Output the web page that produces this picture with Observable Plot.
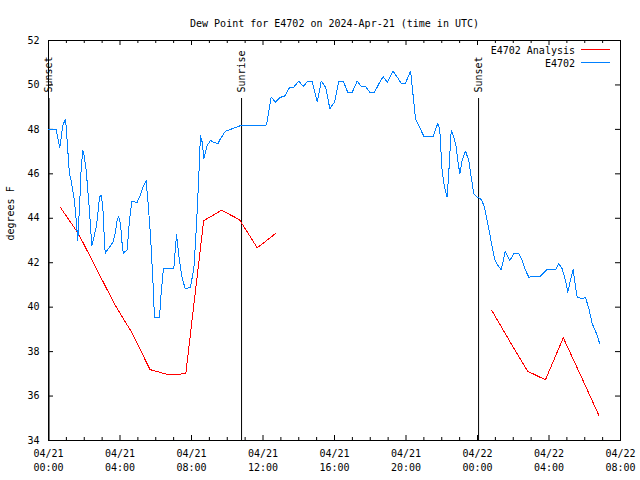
<!DOCTYPE html>
<html><head><meta charset="utf-8">
<script src="https://cdn.jsdelivr.net/npm/d3@7"></script>
<script src="https://cdn.jsdelivr.net/npm/@observablehq/plot@0.6"></script>
<style>body{margin:0;background:#fff} svg{display:block}</style>
</head><body><div id="chart"></div>
<script>
const FONT = "DejaVu Sans Mono";
const title = "Dew Point for E4702 on 2024-Apr-21 (time in UTC)";
const yLabel = "degrees F";
const seriesNames = ["E4702 Analysis", "E4702"];
const seriesColors = ["#ff0000", "#0080ff"];

// hours since 2024-04-21 00:00 UTC
const blueHours = [0.0,0.43,0.63,0.8,0.93,0.99,1.08,1.17,1.23,1.36,1.45,1.55,1.64,1.77,1.83,1.92,1.98,2.11,2.2,2.29,2.42,2.54,2.67,2.76,2.85,2.95,3.04,3.1,3.17,3.41,3.6,3.73,3.84,3.93,4.03,4.1,4.18,4.4,4.53,4.66,4.96,5.09,5.28,5.46,5.59,5.71,5.84,5.93,6.21,6.3,6.43,7.01,7.16,7.29,7.48,7.66,7.94,8.13,8.28,8.41,8.5,8.6,8.69,8.88,9.06,9.25,9.47,9.62,9.9,10.28,10.74,11.58,12.2,12.46,12.7,12.98,13.2,13.5,13.72,14.0,14.25,14.51,14.75,15.03,15.26,15.5,15.74,16.0,16.24,16.49,16.74,16.99,17.27,17.49,17.73,17.98,18.24,18.48,18.72,18.95,19.28,19.51,19.73,19.97,20.25,20.29,20.53,20.72,21.0,21.52,21.78,21.89,22.02,22.15,22.3,22.4,22.53,22.68,22.81,22.9,23.01,23.14,23.33,23.51,23.65,23.79,23.98,24.17,24.26,24.39,24.54,24.69,24.82,24.95,25.1,25.33,25.48,25.55,25.66,25.81,26.03,26.31,26.5,26.69,26.87,27.52,27.86,28.36,28.55,28.74,28.92,29.05,29.2,29.35,29.43,29.58,29.86,30.04,30.23,30.42,30.66,30.84];
const blueValues = [48.0,48.0,47.17,48.17,48.44,48.13,47.05,46.0,45.85,45.25,44.8,43.9,43.0,45.1,46.3,47.05,46.9,46.15,45.25,44.35,42.77,43.15,43.6,44.2,44.95,45.03,44.5,43.45,42.43,42.7,42.92,43.3,43.9,44.08,43.75,43.0,42.43,42.58,43.9,44.75,44.72,44.95,45.4,45.7,44.5,43.15,41.2,39.52,39.52,40.6,41.73,41.73,43.26,42.33,41.28,40.82,40.9,41.73,43.68,45.93,47.72,47.42,46.67,47.28,47.5,47.42,47.35,47.58,47.92,48.03,48.17,48.17,48.2,49.45,49.23,49.45,49.48,49.9,49.9,50.17,49.93,50.17,50.17,49.23,50.17,49.9,48.93,49.23,50.17,50.17,49.67,49.67,50.17,49.93,49.93,49.67,49.67,50.05,50.38,50.12,50.62,50.35,50.08,50.08,50.62,50.38,48.48,48.17,47.68,47.68,48.28,47.97,46.15,45.4,44.95,46.15,47.95,47.65,47.2,46.6,46.0,46.6,47.02,46.6,45.85,45.1,44.95,44.88,44.77,44.5,43.9,43.3,42.7,42.18,41.92,41.68,42.25,42.52,42.33,42.1,42.4,42.4,42.1,41.65,41.35,41.4,41.68,41.68,41.95,41.73,41.2,40.67,41.2,41.68,41.2,40.45,40.38,40.45,39.93,39.25,38.8,38.35];

const redHoursA = [0.68,1.68,2.68,3.68,4.68,5.68,6.68,7.68,8.68,9.68,10.68,11.68,12.68];
const redValuesA = [44.47,43.3,41.73,40.16,38.83,37.19,36.97,37.0,43.89,44.36,43.94,42.67,43.3];
const redHoursB = [24.8,25.8,26.8,27.8,28.8,29.8,30.8];
const redValuesB = [39.85,38.47,37.12,36.73,38.62,36.88,35.11];

const sunNames = ["Sunset", "Sunrise", "Sunset"];
const sunHours = [0.03, 10.8, 24.06];

const majorTickHours = [0, 4, 8, 12, 16, 20, 24, 28, 32];
const minorTickHours = [1,2,3,5,6,7,9,10,11,13,14,15,17,18,19,21,22,23,25,26,27,29,30,31];
const yTicks = [34, 36, 38, 40, 42, 44, 46, 48, 50, 52];

const baseTime = Date.UTC(2024, 3, 21);
const toDate = h => new Date(baseTime + h * 3600e3);
const blue = blueHours.map((h, i) => ({t: toDate(h), v: blueValues[i]}));
const red = [
  ...redHoursA.map((h, i) => ({t: toDate(h), v: redValuesA[i], seg: "a"})),
  ...redHoursB.map((h, i) => ({t: toDate(h), v: redValuesB[i], seg: "b"}))
];
const sun = sunHours.map((h, i) => ({t: toDate(h), name: sunNames[i]}));
const majors = majorTickHours.map(toDate);
const minors = minorTickHours.map(toDate);
const fmt = d3.utcFormat("%m/%d\n%H:%M");

const W = 640, H = 480, mL = 48, mR = 20, mT = 40, mB = 40;
const fw = W - mL - mR, fh = H - mT - mB;

function legendMark(index, scales, values, dims) {
  const g = d3.create("svg:g").attr("font-family", FONT).attr("font-size", 10);
  const xr = dims.width - dims.marginRight;
  seriesNames.forEach((name, i) => {
    const y = dims.marginTop + 9.5 + i * 13;
    g.append("text").attr("x", xr - 45).attr("y", y + 1).attr("dy", "0.32em")
      .attr("text-anchor", "end").attr("fill", "black").text(name);
    g.append("line").attr("x1", xr - 39).attr("x2", xr - 10).attr("y1", y).attr("y2", y)
      .attr("stroke", seriesColors[i]).attr("stroke-width", 1).attr("shape-rendering", "crispEdges");
  });
  return g.node();
}

const chart = Plot.plot({
  width: W, height: H,
  marginLeft: mL, marginRight: mR, marginTop: mT, marginBottom: mB,
  style: {fontFamily: FONT, fontSize: "10px", background: "white", color: "black"},
  x: {type: "utc", domain: [toDate(0), toDate(32)], axis: null},
  y: {domain: [34, 52], axis: null},
  marks: [
    Plot.frame({stroke: "black"}),
    Plot.tickX(majors, {x: d => d, insetTop: fh - 5, stroke: "black"}),
    Plot.tickX(majors, {x: d => d, insetBottom: fh - 5, stroke: "black"}),
    Plot.tickX(minors, {x: d => d, insetTop: fh - 3, stroke: "black"}),
    Plot.tickX(minors, {x: d => d, insetBottom: fh - 3, stroke: "black"}),
    Plot.tickY(yTicks, {y: d => d, insetRight: fw - 5, stroke: "black"}),
    Plot.tickY(yTicks, {y: d => d, insetLeft: fw - 5, stroke: "black"}),
    Plot.text(yTicks, {y: d => d, text: d => String(d), frameAnchor: "left", dx: -9, textAnchor: "end", fill: "black"}),
    Plot.text(majors, {x: d => d, text: d => fmt(d), frameAnchor: "bottom", dy: 7, lineAnchor: "top", lineHeight: 1.4, fill: "black"}),
    Plot.text([title], {text: d => d, frameAnchor: "top", dy: -21, fill: "black"}),
    Plot.text([yLabel], {text: d => d, frameAnchor: "left", dx: -38, rotate: -90, fill: "black"}),
    Plot.ruleX(sun, {x: "t", insetTop: 58, stroke: "black"}),
    Plot.text(sun, {x: "t", text: "name", frameAnchor: "top", dx: -4, dy: 52, rotate: -90, textAnchor: "start", fill: "black"}),
    Plot.line(red, {x: "t", y: "v", z: "seg", stroke: seriesColors[0], strokeWidth: 1, shapeRendering: "crispEdges"}),
    Plot.line(blue, {x: "t", y: "v", stroke: seriesColors[1], strokeWidth: 1, shapeRendering: "crispEdges"}),
    legendMark
  ]
});
document.getElementById("chart").appendChild(chart);
</script>
</body></html>
